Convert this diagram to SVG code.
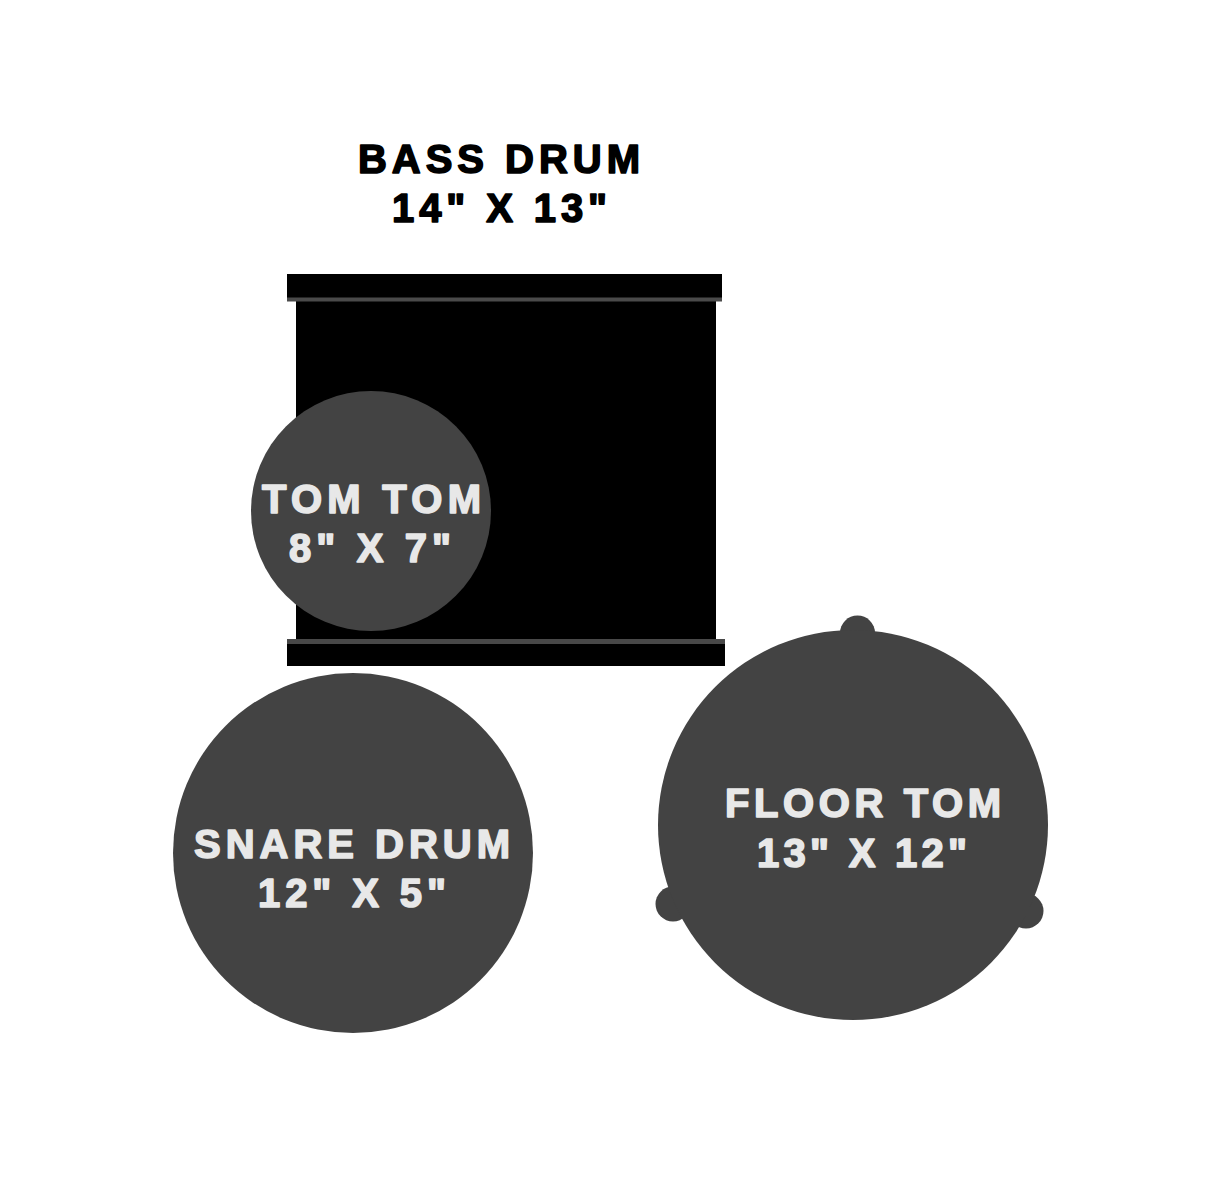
<svg xmlns="http://www.w3.org/2000/svg" width="1222" height="1179" viewBox="0 0 1222 1179">
<style>
.lbl{font-family:"Liberation Sans",Arial,sans-serif;font-weight:bold;font-size:40px;text-anchor:middle;stroke-width:1.6px;stroke-linejoin:round}
.dark{fill:#000;stroke:#000}
.light{fill:#e8e8e8;stroke:#e8e8e8}
.drum{fill:#434343}
</style>
<rect width="1222" height="1179" fill="#fff"/>
<g id="bass-drum">
<rect x="296" y="300" width="420" height="342" fill="#000"/>
<rect x="287" y="274" width="435" height="24" fill="#000"/>
<rect x="287" y="297.5" width="435" height="4" fill="#4a4a4a"/>
<rect x="287" y="639" width="438" height="5" fill="#484848"/>
<rect x="287" y="644" width="438" height="22" fill="#000"/>
<text class="lbl dark" x="499" y="173" textLength="282" lengthAdjust="spacing">BASS DRUM</text>
<text class="lbl dark" x="499.5" y="222" textLength="215" lengthAdjust="spacing">14" X 13"</text>
</g>
<g id="tom-tom">
<circle class="drum" cx="371" cy="511" r="120"/>
<text class="lbl light" x="371.5" y="513" textLength="219" lengthAdjust="spacing">TOM TOM</text>
<text class="lbl light" x="370" y="562" textLength="162" lengthAdjust="spacing">8" X 7"</text>
</g>
<g id="snare-drum">
<circle class="drum" cx="353" cy="853" r="180"/>
<text class="lbl light" x="352" y="858" textLength="316" lengthAdjust="spacing">SNARE DRUM</text>
<text class="lbl light" x="352" y="907" textLength="188" lengthAdjust="spacing">12" X 5"</text>
</g>
<g id="floor-tom">
<circle class="drum" cx="857.5" cy="633" r="17.5"/>
<circle class="drum" cx="673" cy="904" r="17.5"/>
<circle class="drum" cx="1026" cy="911" r="17.5"/>
<circle class="drum" cx="853" cy="825" r="195"/>
<text class="lbl light" x="863" y="817" textLength="276" lengthAdjust="spacing">FLOOR TOM</text>
<text class="lbl light" x="862" y="867" textLength="210" lengthAdjust="spacing">13" X 12"</text>
</g>
<g id="connectors"/>
</svg>
